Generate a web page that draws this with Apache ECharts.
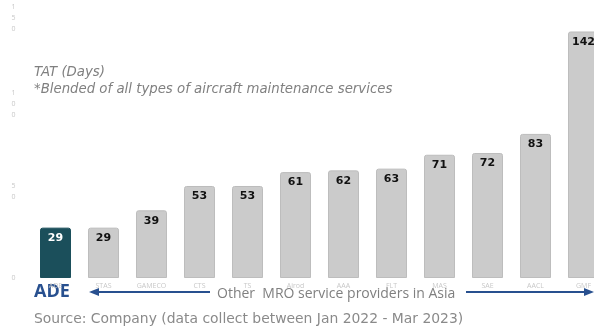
<!DOCTYPE html>
<html><head><meta charset="utf-8">
<script src="https://cdn.jsdelivr.net/npm/echarts@6/dist/echarts.min.js"></script>
<style>html,body{margin:0;padding:0;background:#fff}#c{width:594px;height:329px}</style>
</head><body><div id="c"></div>
<script>
const categories = ['ADE','STAS','GAMECO','CTS','TS','Airod','AAA','FLT','MAS','SAE','AACL','GMF'];
const tatDays = [29,29,39,53,53,61,62,63,71,72,83,142];
const yTicks = [0,50,100,150];

const chart = echarts.init(document.getElementById('c'));
const font = '"Open Sans", Lato, sans-serif';
const wfont = '"DejaVu Sans", sans-serif';
chart.setOption({
  animation:false,
  grid:{left:31.5,width:576,top:17.6,bottom:51,containLabel:false,outerBoundsMode:'none'},
  xAxis:{type:'category',data:categories,axisLine:{show:false},axisTick:{show:false},
    axisLabel:{fontSize:7,color:'#c8c8c8',margin:4,fontFamily:font,interval:0}},
  yAxis:{type:'value',min:yTicks[0],max:yTicks[yTicks.length-1],interval:50,
    splitLine:{show:false},axisLine:{show:false},axisTick:{show:false},
    axisLabel:{fontSize:7,color:'#c8c8c8',margin:16,lineHeight:11,fontFamily:font,
      formatter:v=>String(v).split('').join('\n')}},
  series:[{type:'bar',barWidth:31,
    data:tatDays.map((v,i)=>({value:v,itemStyle:{color:i===0?'#1b4f5b':'#cbcbcb',
      borderColor:i===0?'#1b4f5b':'#bdbdbd',borderWidth:1,borderRadius:[2,2,0,0]},
      label:{color:i===0?'#ffffff':'#111111'}})),
    label:{show:true,position:'insideTop',distance:5,fontSize:11,fontWeight:'bold',fontFamily:wfont}
  }],
  graphic:[
    {type:'text',left:34,top:66,style:{text:'TAT (Days)',font:'oblique 13.3px '+wfont,fill:'#808080'}},
    {type:'text',left:34,top:83,style:{text:'*Blended of all types of aircraft maintenance services',font:'oblique 13.3px '+wfont,fill:'#808080'}},
    {type:'text',left:34,top:283,style:{text:'ADE',font:'bold 18px '+font,fill:'#28508f'}},
    {type:'text',left:217,top:287,style:{text:'Other  MRO service providers in Asia',font:'14px '+font,fill:'#808080'}},
    {type:'text',left:34,top:312,style:{text:'Source: Company (data collect between Jan 2022 - Mar 2023)',font:'13.9px '+wfont,fill:'#8a8a8a'}},
    {type:'line',shape:{x1:96,y1:292,x2:210,y2:292},style:{stroke:'#28508f',lineWidth:2}},
    {type:'polygon',shape:{points:[[89,292],[99,288],[99,296]]},style:{fill:'#28508f'}},
    {type:'line',shape:{x1:466,y1:292,x2:586,y2:292},style:{stroke:'#28508f',lineWidth:2}},
    {type:'polygon',shape:{points:[[594,292],[584,288],[584,296]]},style:{fill:'#28508f'}}
  ]
});
</script></body></html>
